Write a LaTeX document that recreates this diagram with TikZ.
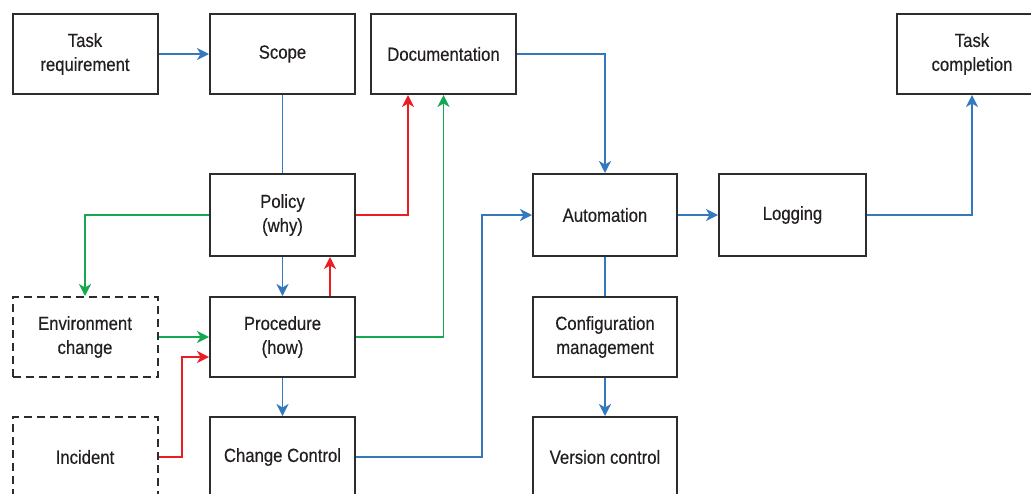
\documentclass[tikz,border=0pt]{standalone}
\usepackage{fontspec}
\setmainfont{Liberation Sans}[FakeStretch=0.88,FakeBold=0.4]
\usetikzlibrary{arrows.meta}
\definecolor{bl}{RGB}{52,120,190}
\definecolor{gr}{RGB}{20,168,80}
\definecolor{rd}{RGB}{236,28,36}
\definecolor{bx}{RGB}{45,45,45}
\definecolor{tx}{RGB}{35,31,32}
\begin{document}
\begin{tikzpicture}[x=1pt,y=-1pt,
  box/.style={draw=bx,line width=2pt,minimum width=145pt,minimum height=80pt,inner sep=0pt,
    align=center,text=tx,font=\fontsize{19}{24}\selectfont},
  dbox/.style={box,dash pattern=on 8pt off 5pt},
  conn/.style={line width=1.8pt},
  arr/.style={conn,-{Stealth[length=12pt,width=12pt,inset=3.5pt]}}]
\useasboundingbox (0,0) rectangle (1031,493);
\node[box] (treq) at (85,54) {Task\\requirement};
\node[box] (scope) at (282.5,54) {Scope};
\node[box] (doc) at (443.5,54) {Documentation};
\node[box,minimum width=150pt] (tcomp) at (972,54) {Task\\completion};
\node[box,minimum height=82pt] (policy) at (282.5,215) {Policy\\(why)};
\node[box,minimum height=82pt,minimum width=144pt] (auto) at (605,215) {Automation};
\node[box,minimum height=82pt,minimum width=147pt] (log) at (792.5,215) {Logging};
\node[dbox] (env) at (85,337) {Environment\\change};
\node[box] (proc) at (282.5,337) {Procedure\\(how)};
\node[box,minimum width=144pt] (conf) at (605,337) {Configuration\\management};
\node[dbox] (inc) at (85,457) {Incident};
\node[box] (cc) at (282.5,457) {Change Control};
\node[box,minimum width=144pt] (vc) at (605,457) {Version control};

\draw[arr,bl] (treq) -- (scope);
\draw[conn,bl] (scope) -- (policy);
\draw[arr,gr] (policy.west) -| (env.north);
\draw[arr,bl] (policy) -- (proc);
\draw[arr,rd] ([xshift=47.5pt]proc.north) -- ([xshift=47.5pt]policy.south);
\draw[arr,rd] (policy.east) -| ([xshift=-35.5pt]doc.south);
\draw[arr,gr] (proc.east) -| (doc.south);
\draw[arr,bl] (doc.east) -| (auto.north);
\draw[arr,gr] (env.east) -- (proc.west);
\draw[arr,rd] (inc.east) -| ([xshift=-27pt,yshift=-20pt]proc.west) -- ([yshift=-20pt]proc.west);
\draw[arr,bl] (proc) -- (cc);
\draw[arr,bl] (cc.east) -| ([xshift=-50pt]auto.west) -- (auto.west);
\draw[arr,bl] (auto) -- (log);
\draw[arr,bl] (log.east) -| (tcomp.south);
\draw[conn,bl] (auto) -- (conf);
\draw[arr,bl] (conf) -- (vc);
\end{tikzpicture}
\end{document}
